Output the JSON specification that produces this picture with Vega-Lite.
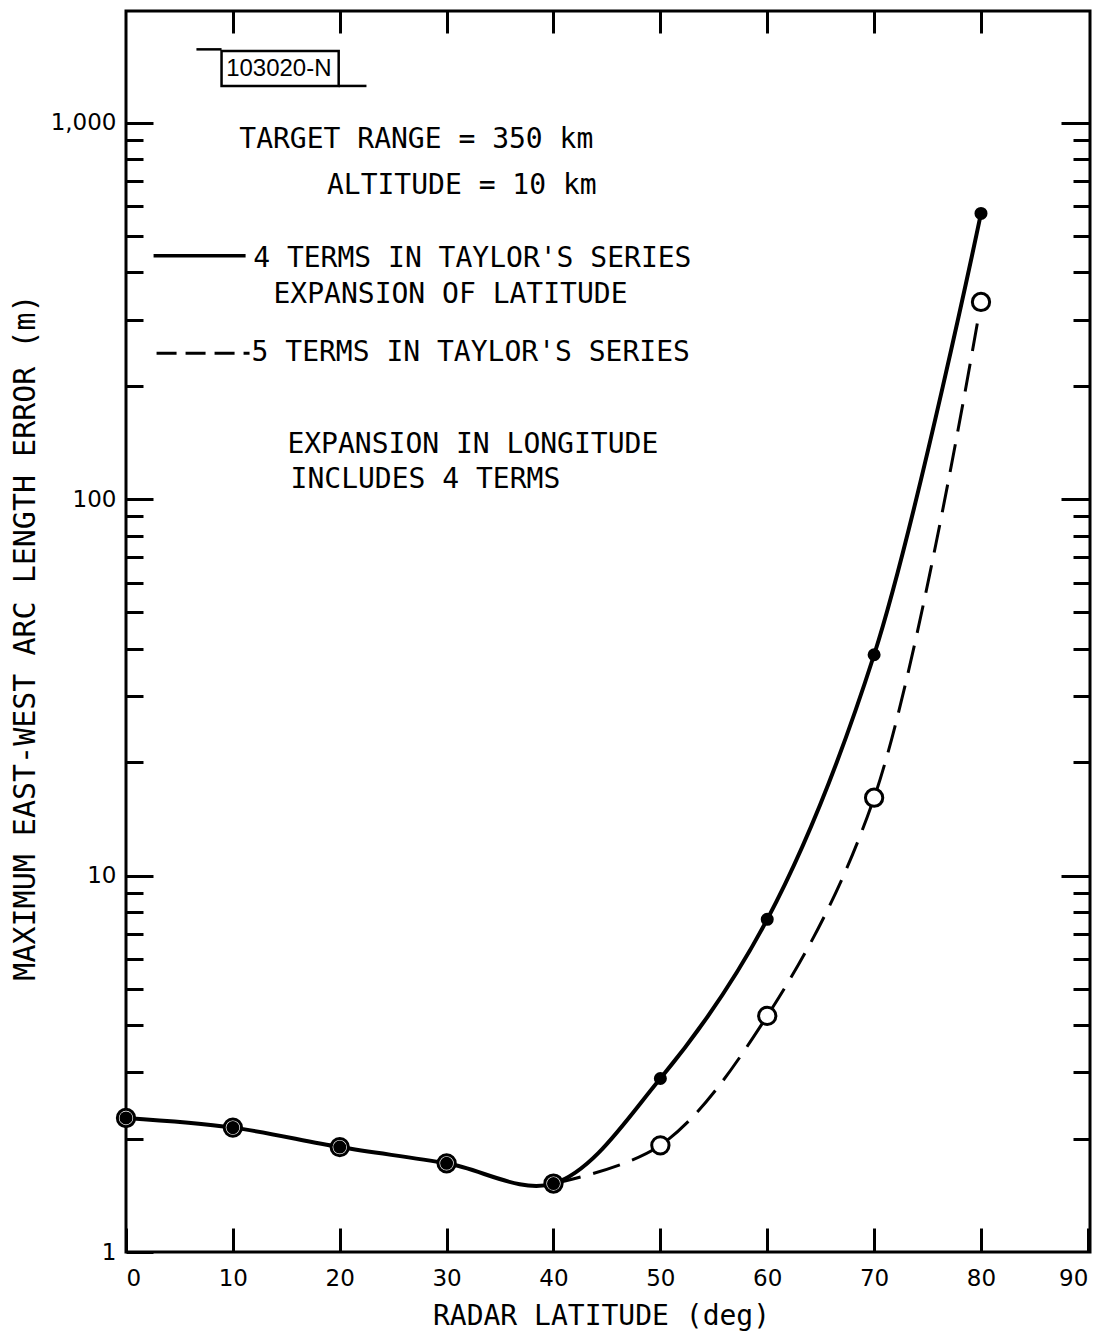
{
  "$schema": "https://vega.github.io/schema/vega-lite/v6.json",
  "width": 964,
  "height": 1241,
  "autosize": {"type": "none"},
  "padding": {"left": 126, "top": 11, "right": 5, "bottom": 84},
  "background": "white",
  "config": {
    "view": {"stroke": "black", "strokeWidth": 3},
    "font": "DejaVu Sans",
    "axis": {"grid": false, "domain": false, "tickColor": "black", "tickWidth": 3, "labelColor": "black", "titleColor": "black"}
  },
  "datasets": {
    "four": [
      {"lat": 0, "err": 2.27}, {"lat": 10, "err": 2.14}, {"lat": 20, "err": 1.9}, {"lat": 30, "err": 1.72},
      {"lat": 40, "err": 1.52}, {"lat": 50, "err": 2.89}, {"lat": 60, "err": 7.65}, {"lat": 70, "err": 38.6}, {"lat": 80, "err": 574}
    ],
    "five": [
      {"lat": 0, "err": 2.27}, {"lat": 10, "err": 2.14}, {"lat": 20, "err": 1.9}, {"lat": 30, "err": 1.72},
      {"lat": 40, "err": 1.52}, {"lat": 50, "err": 1.92}, {"lat": 60, "err": 4.24}, {"lat": 70, "err": 16.1}, {"lat": 80, "err": 334}
    ],
    "notes": [
      {"lat": 10.6, "err": 902, "text": "TARGET RANGE = 350 km"},
      {"lat": 18.8, "err": 677, "text": "ALTITUDE = 10 km"},
      {"lat": 11.9, "err": 434, "text": "4 TERMS IN TAYLOR'S SERIES"},
      {"lat": 13.8, "err": 348, "text": "EXPANSION OF LATITUDE"},
      {"lat": 11.75, "err": 245, "text": "5 TERMS IN TAYLOR'S SERIES"},
      {"lat": 15.1, "err": 139, "text": "EXPANSION IN LONGITUDE"},
      {"lat": 15.4, "err": 112.5, "text": "INCLUDES 4 TERMS"}
    ]
  },
  "resolve": {"axis": {"x": "independent", "y": "independent"}},
  "layer": [
    {
      "data": {"name": "four"},
      "mark": {"type": "line", "interpolate": "catmull-rom", "color": "black", "strokeWidth": 4},
      "encoding": {
        "x": {"field": "lat", "type": "quantitative", "scale": {"domain": [0, 90.2], "nice": false, "zero": false},
          "axis": {"orient": "bottom", "values": [0, 10, 20, 30, 40, 50, 60, 70, 80, 90], "tickSize": -24, "labelPadding": 39,
            "labelFontSize": 23, "labelFlush": 5, "title": "RADAR LATITUDE (deg)", "titleFont": "DejaVu Sans Mono",
            "titleFontSize": 28, "titleFontWeight": "normal", "titleX": 475, "titleY": 64, "titleBaseline": "middle", "titleAlign": "center"}},
        "y": {"field": "err", "type": "quantitative", "scale": {"type": "log", "domain": [1, 1980], "nice": false},
          "axis": {"orient": "left",
            "values": [1, 2, 3, 4, 5, 6, 7, 8, 9, 10, 20, 30, 40, 50, 60, 70, 80, 90, 100, 200, 300, 400, 500, 600, 700, 800, 900, 1000],
            "tickSize": {"condition": {"test": "indexof([1,10,100,1000], datum.value) >= 0", "value": -27}, "value": -17},
            "labelExpr": "datum.value == 1000 ? '1,000' : datum.value == 100 ? '100' : datum.value == 10 ? '10' : datum.value == 1 ? '1' : ''",
            "labelPadding": 37, "labelFontSize": 23,
            "title": "MAXIMUM EAST-WEST ARC LENGTH ERROR (m)", "titleFont": "DejaVu Sans Mono", "titleFontSize": 30,
            "titleFontWeight": "normal", "titleX": -101, "titleY": 626, "titleAngle": -90, "titleAlign": "center", "titleBaseline": "middle"}}
      }
    },
    {
      "data": {"name": "five"},
      "transform": [{"filter": "datum.lat >= 40"}],
      "mark": {"type": "line", "interpolate": "catmull-rom", "color": "black", "strokeWidth": 3, "strokeDash": [28, 13]},
      "encoding": {
        "x": {"field": "lat", "type": "quantitative", "scale": {"domain": [0, 90.2], "nice": false, "zero": false},
          "axis": {"orient": "top", "values": [10, 20, 30, 40, 50, 60, 70, 80], "tickSize": -22, "labels": false, "title": null}},
        "y": {"field": "err", "type": "quantitative", "scale": {"type": "log", "domain": [1, 1980], "nice": false},
          "axis": {"orient": "right",
            "values": [2, 3, 4, 5, 6, 7, 8, 9, 10, 20, 30, 40, 50, 60, 70, 80, 90, 100, 200, 300, 400, 500, 600, 700, 800, 900, 1000],
            "tickSize": {"condition": {"test": "indexof([1,10,100,1000], datum.value) >= 0", "value": -29}, "value": -17},
            "labels": false, "title": null}}
      }
    },
    {
      "data": {"name": "five"},
      "mark": {"type": "point", "filled": true, "fill": "white", "stroke": "black", "strokeWidth": 3, "size": 300, "opacity": 1},
      "encoding": {
        "x": {"field": "lat", "type": "quantitative", "scale": {"domain": [0, 90.2], "nice": false, "zero": false}, "axis": null},
        "y": {"field": "err", "type": "quantitative", "scale": {"type": "log", "domain": [1, 1980], "nice": false}, "axis": null}
      }
    },
    {
      "data": {"name": "four"},
      "mark": {"type": "circle", "color": "black", "size": 170, "opacity": 1},
      "encoding": {
        "x": {"field": "lat", "type": "quantitative", "scale": {"domain": [0, 90.2], "nice": false, "zero": false}, "axis": null},
        "y": {"field": "err", "type": "quantitative", "scale": {"type": "log", "domain": [1, 1980], "nice": false}, "axis": null}
      }
    },
    {
      "data": {"values": [{"lat": 2.58, "lat2": 11.19, "err": 443}]},
      "mark": {"type": "rule", "color": "black", "strokeWidth": 3.5},
      "encoding": {
        "x": {"field": "lat", "type": "quantitative", "scale": {"domain": [0, 90.2], "nice": false, "zero": false}, "axis": null},
        "x2": {"field": "lat2"},
        "y": {"field": "err", "type": "quantitative", "scale": {"type": "log", "domain": [1, 1980], "nice": false}, "axis": null}
      }
    },
    {
      "data": {"values": [{"lat": 2.86, "lat2": 11.56, "err": 244}]},
      "mark": {"type": "rule", "color": "black", "strokeWidth": 3, "strokeDash": [20, 9]},
      "encoding": {
        "x": {"field": "lat", "type": "quantitative", "scale": {"domain": [0, 90.2], "nice": false, "zero": false}, "axis": null},
        "x2": {"field": "lat2"},
        "y": {"field": "err", "type": "quantitative", "scale": {"type": "log", "domain": [1, 1980], "nice": false}, "axis": null}
      }
    },
    {
      "data": {"name": "notes"},
      "mark": {"type": "text", "align": "left", "baseline": "middle", "font": "DejaVu Sans Mono", "fontSize": 28, "color": "black"},
      "encoding": {
        "x": {"field": "lat", "type": "quantitative", "scale": {"domain": [0, 90.2], "nice": false, "zero": false}, "axis": null},
        "y": {"field": "err", "type": "quantitative", "scale": {"type": "log", "domain": [1, 1980], "nice": false}, "axis": null},
        "text": {"field": "text"}
      }
    },
    {
      "data": {"values": [{"lat": 8.94, "lat2": 19.9, "err": 1550, "err2": 1252}]},
      "mark": {"type": "rect", "fill": "white", "stroke": "black", "strokeWidth": 2.5},
      "encoding": {
        "x": {"field": "lat", "type": "quantitative", "scale": {"domain": [0, 90.2], "nice": false, "zero": false}, "axis": null},
        "x2": {"field": "lat2"},
        "y": {"field": "err", "type": "quantitative", "scale": {"type": "log", "domain": [1, 1980], "nice": false}, "axis": null},
        "y2": {"field": "err2"}
      }
    },
    {
      "data": {"values": [{"lat": 6.59, "lat2": 8.94, "err": 1566}, {"lat": 19.9, "lat2": 22.5, "err": 1252}]},
      "mark": {"type": "rule", "color": "black", "strokeWidth": 2.5},
      "encoding": {
        "x": {"field": "lat", "type": "quantitative", "scale": {"domain": [0, 90.2], "nice": false, "zero": false}, "axis": null},
        "x2": {"field": "lat2"},
        "y": {"field": "err", "type": "quantitative", "scale": {"type": "log", "domain": [1, 1980], "nice": false}, "axis": null}
      }
    },
    {
      "data": {"values": [{"lat": 14.3, "err": 1389, "text": "103020-N"}]},
      "mark": {"type": "text", "align": "center", "baseline": "middle", "font": "Liberation Sans", "fontSize": 24, "color": "black"},
      "encoding": {
        "x": {"field": "lat", "type": "quantitative", "scale": {"domain": [0, 90.2], "nice": false, "zero": false}, "axis": null},
        "y": {"field": "err", "type": "quantitative", "scale": {"type": "log", "domain": [1, 1980], "nice": false}, "axis": null},
        "text": {"field": "text"}
      }
    }
  ]
}
